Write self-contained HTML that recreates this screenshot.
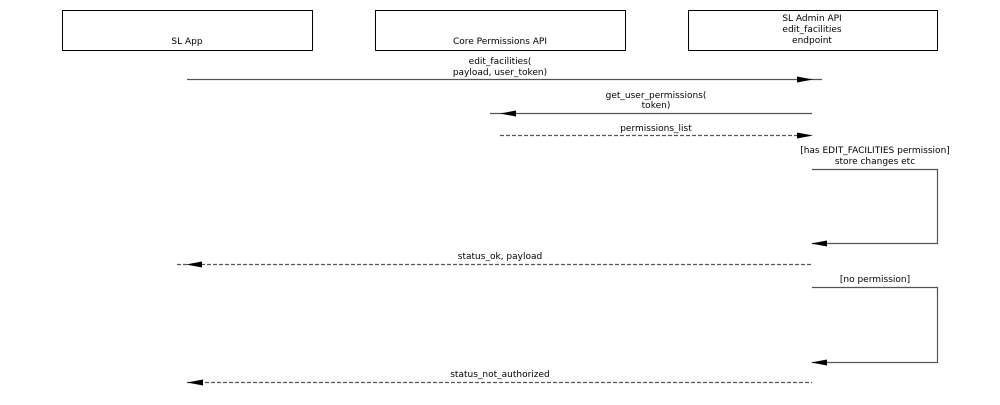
<!DOCTYPE html>
<html><head><meta charset="utf-8"><style>
body{margin:0;background:#fff;}
svg text{font-family:"DejaVu Sans","Liberation Sans",sans-serif;font-size:9px;fill:#000;text-anchor:middle;}
</style></head><body>
<svg width="1000" height="400" viewBox="0 0 1000 400" xmlns="http://www.w3.org/2000/svg">
<g fill="none" stroke="#000" stroke-width="1">
<rect x="62.5" y="10.5" width="250" height="40"/>
<rect x="375.5" y="10.5" width="250" height="40"/>
<rect x="688.5" y="10.5" width="249" height="40"/>
</g>
<text x="187" y="44">SL App</text>
<text x="500" y="44">Core Permissions API</text>
<text x="812" y="21">SL Admin API</text>
<text x="812" y="32">edit_facilities</text>
<text x="812" y="43">endpoint</text>

<g stroke="#555" stroke-width="1.2" fill="none">
<line x1="187" y1="79.5" x2="822" y2="79.5"/>
<line x1="490" y1="113.5" x2="812" y2="113.5"/>
<line x1="500" y1="135.5" x2="812" y2="135.5" stroke-dasharray="4,2"/>
<polyline points="812,169.5 937.5,169.5 937.5,243.5 812,243.5"/>
<line x1="177" y1="264.5" x2="812" y2="264.5" stroke-dasharray="4,2"/>
<polyline points="812,287.5 937.5,287.5 937.5,362.5 812,362.5"/>
<line x1="187" y1="382.5" x2="812" y2="382.5" stroke-dasharray="4,2"/>
</g>
<g fill="#000">
<polygon points="813,79.5 797,76.5 797,82.5"/>
<polygon points="500,113.5 516,110.5 516,116.5"/>
<polygon points="813,135.5 797,132.5 797,138.5"/>
<polygon points="811,243.5 827,240.5 827,246.5"/>
<polygon points="186,264.5 202,261.5 202,267.5"/>
<polygon points="811,362.5 827,359.5 827,365.5"/>
<polygon points="187,382.5 203,379.5 203,385.5"/>
</g>
<text x="500" y="64">edit_facilities(</text>
<text x="500" y="75">payload, user_token)</text>
<text x="656" y="98">get_user_permissions(</text>
<text x="656" y="108">token)</text>
<text x="656" y="131">permissions_list</text>
<text x="875" y="153">[has EDIT_FACILITIES permission]</text>
<text x="875" y="164">store changes etc</text>
<text x="500" y="259">status_ok, payload</text>
<text x="875" y="282">[no permission]</text>
<text x="500" y="377">status_not_authorized</text>
</svg>
</body></html>
